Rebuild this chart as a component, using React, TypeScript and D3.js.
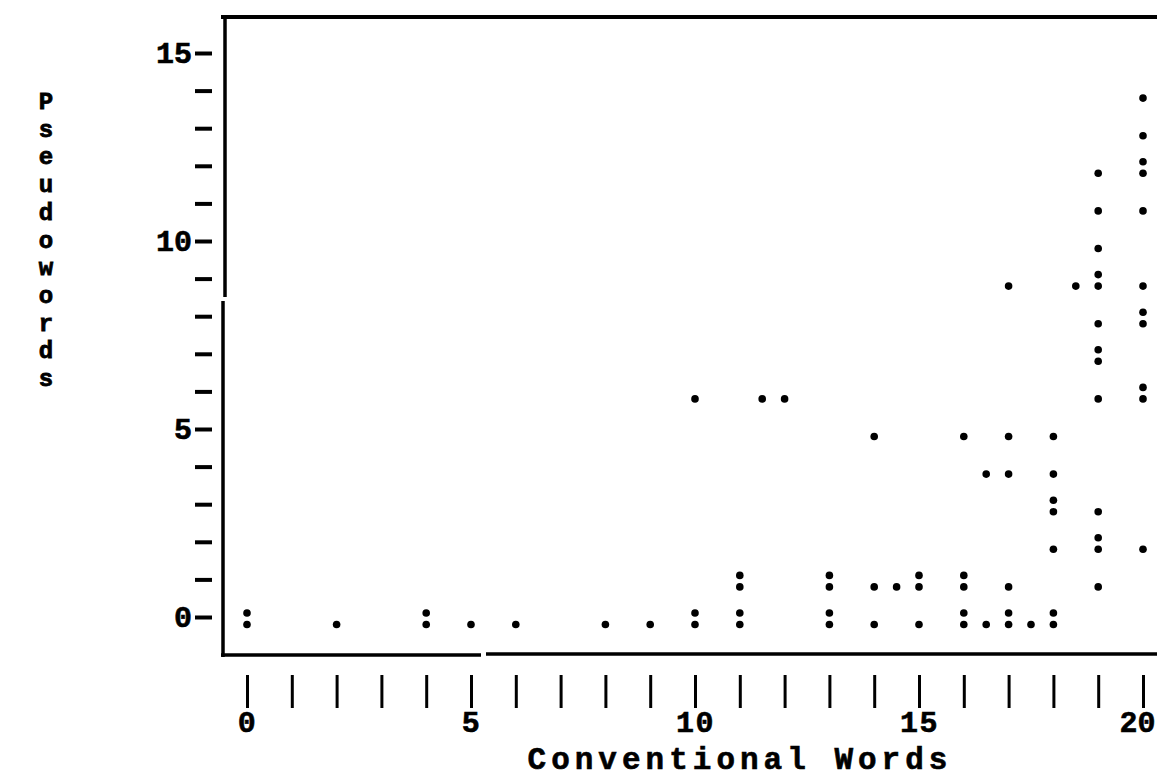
import React, { useEffect, useRef } from 'react';
import * as d3 from 'd3';

// Conventional words (x), pseudowords (y), and how many children share the spot (":" = 2)
const convWords = [
  0, 2, 4, 5, 6, 8, 9,
  10, 10,
  11, 11,
  11.5, 12,
  13, 13,
  14, 14, 14,
  14.5,
  15, 15,
  16, 16, 16,
  16.5, 16.5,
  17, 17, 17, 17, 17,
  17.5,
  18, 18, 18, 18, 18,
  18.5,
  19, 19, 19, 19, 19, 19, 19, 19, 19, 19,
  20, 20, 20, 20, 20, 20, 20, 20,
];
const pseudoWords = [
  0, 0, 0, 0, 0, 0, 0,
  0, 6,
  0, 1,
  6, 6,
  0, 1,
  0, 1, 5,
  1,
  0, 1,
  0, 1, 5,
  0, 4,
  0, 1, 4, 5, 9,
  0,
  0, 2, 3, 4, 5,
  9,
  1, 2, 3, 6, 7, 8, 9, 10, 11, 12,
  2, 6, 8, 9, 11, 12, 13, 14,
];
const counts = [
  2, 1, 2, 1, 1, 1, 1,
  2, 1,
  2, 2,
  1, 1,
  2, 2,
  1, 1, 1,
  1,
  1, 2,
  2, 2, 1,
  1, 1,
  2, 1, 1, 1, 1,
  1,
  2, 1, 2, 1, 1,
  1,
  1, 2, 1, 1, 2, 1, 2, 1, 1, 1,
  1, 2, 2, 1, 1, 2, 1, 1,
];

const xTicks = d3.range(0, 21);
const yTicks = d3.range(0, 16);
const xLabels = [0, 5, 10, 15, 20];
const yLabels = [0, 5, 10, 15];
const xTitle = 'Conventional Words';
const yTitle = 'Pseudowords';

const W = 1157;
const H = 779;
const FONT = "'Liberation Mono', 'Courier New', monospace";

export default function App() {
  const ref = useRef<SVGSVGElement | null>(null);

  useEffect(() => {
    const svg = d3.select(ref.current);
    svg.selectAll('*').remove();

    const x = d3.scaleLinear().domain([0, 20]).range([247, 1143]);
    const y = d3.scaleLinear().domain([0, 15]).range([617, 53]);

    const data = convWords.map((c, i) => ({ c, p: pseudoWords[i], n: counts[i] }));

    // frame (top, left, bottom) with the breaks of the old print
    const frame = svg.append('g').attr('stroke', '#000').attr('fill', 'none');
    frame.append('line').attr('x1', 221).attr('x2', 1160).attr('y1', 17).attr('y2', 17).attr('stroke-width', 4);
    frame.append('line').attr('x1', 225).attr('x2', 225).attr('y1', 15).attr('y2', 297).attr('stroke-width', 3.5);
    frame.append('line').attr('x1', 223).attr('x2', 223).attr('y1', 301).attr('y2', 657).attr('stroke-width', 3.5);
    frame.append('line').attr('x1', 221).attr('x2', 481).attr('y1', 655).attr('y2', 655).attr('stroke-width', 3.5);
    frame.append('line').attr('x1', 486).attr('x2', 1160).attr('y1', 654).attr('y2', 654).attr('stroke-width', 3.5);

    // y axis: dashes at every unit, labels every 5
    const yAxis = d3
      .axisLeft(y)
      .tickValues(yTicks)
      .tickSize(17)
      .tickPadding(3)
      .tickFormat(d => (yLabels.includes(+d) ? String(d) : ''));
    const yg = svg.append('g').attr('transform', 'translate(212,0)').call(yAxis);
    yg.select('.domain').remove();
    yg.selectAll('line').attr('stroke', '#000').attr('stroke-width', 4);
    yg.selectAll('text')
      .attr('font-family', FONT)
      .attr('font-weight', 'bold')
      .attr('font-size', 30)
      .attr('stroke', '#000')
      .attr('stroke-width', 0.6)
      .attr('fill', '#000');

    // x axis: vertical bars below the frame
    const xAxis = d3
      .axisBottom(x)
      .tickValues(xTicks)
      .tickSize(33)
      .tickFormat(d => (xLabels.includes(+d) ? String(d) : ''));
    const xg = svg.append('g').attr('transform', 'translate(0,675)').call(xAxis);
    xg.select('.domain').remove();
    xg.selectAll('line').attr('stroke', '#000').attr('stroke-width', 3);
    xg.selectAll('text')
      .attr('y', 57)
      .attr('dy', 0)
      .attr('font-family', FONT)
      .attr('font-weight', 'bold')
      .attr('font-size', 30)
      .attr('letter-spacing', 1.5)
      .attr('stroke', '#000')
      .attr('stroke-width', 0.6)
      .attr('fill', '#000');
    // the last label is pressed against the right edge of the page
    xg.selectAll<SVGTextElement, number>('text')
      .filter(d => d === 20)
      .attr('text-anchor', 'end')
      .attr('letter-spacing', 0)
      .attr('x', 12);

    // axis titles
    svg.append('text')
      .attr('x', 740)
      .attr('y', 769)
      .attr('text-anchor', 'middle')
      .attr('font-family', FONT)
      .attr('font-weight', 'bold')
      .attr('font-size', 31)
      .attr('letter-spacing', 5)
      .attr('stroke', '#000')
      .attr('stroke-width', 0.6)
      .text(xTitle);

    svg.append('g')
      .selectAll('text')
      .data(yTitle.split(''))
      .enter()
      .append('text')
      .attr('x', 46)
      .attr('y', (d, i) => 109 + i * 27.7)
      .attr('text-anchor', 'middle')
      .attr('font-family', FONT)
      .attr('font-weight', 'bold')
      .attr('font-size', 24)
      .attr('stroke', '#000')
      .attr('stroke-width', 0.8)
      .text(d => d);

    // points: "." sits low in its cell, ":" adds a second dot above it
    const dots = data.flatMap(d => d3.range(d.n).map(k => ({ ...d, k })));
    svg.append('g')
      .selectAll('circle')
      .data(dots)
      .enter()
      .append('circle')
      .attr('cx', d => x(d.c))
      .attr('cy', d => y(d.p) + 7.5 - d.k * 11.5)
      .attr('r', 3.8)
      .attr('fill', '#000');
  }, []);

  return (
    <div style={{ position: 'absolute', left: 0, top: 0, background: '#fff' }}>
      <svg ref={ref} width={W} height={H} style={{ display: 'block', background: '#fff' }} />
    </div>
  );
}
